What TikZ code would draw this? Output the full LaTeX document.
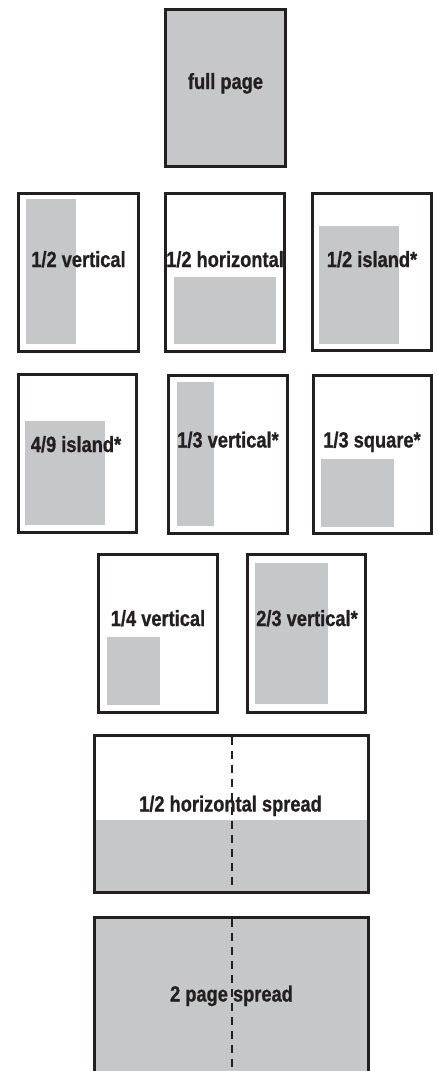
\documentclass[tikz,border=0pt]{standalone}
\usepackage{fontspec}
\newfontfamily\condfont[FakeStretch=0.83,BoldFeatures={FakeBold=0.8}]{Liberation Sans}
\definecolor{ink}{HTML}{231F20}
\definecolor{adgray}{HTML}{C6C7C9}
\begin{document}
\begin{tikzpicture}[x=1pt,y=-1pt,
  frame/.style={draw=ink,line width=2.6pt},
  panel/.style={fill=adgray},
  fold/.style={draw=ink,line width=1.1pt,dash pattern=on 8pt off 6pt},
  lbl/.style={anchor=base,text=ink,inner sep=0pt,font=\condfont\bfseries\fontsize{22}{26}\selectfont}]
\useasboundingbox (0,0) rectangle (437,1071);
\fill[white] (0,0) rectangle (437,1071);
% full page
\fill[panel] (165.3,9.3) rectangle (285.7,166.7);
\draw[frame] (165.3,9.3) rectangle (285.7,166.7);
\node[lbl] (full) at (225.5,89) {full page};
% row 2
\fill[panel] (26,199) rectangle (76,344);
\draw[frame] (18.3,193.3) rectangle (138.7,351.7);
\node[lbl] (hv) at (78.5,267) {1/2 vertical};
\fill[panel] (174,277) rectangle (276,344);
\draw[frame] (165.3,193.3) rectangle (284.7,351.7);
\node[lbl] (hh) at (225,267) {1/2 horizontal};
\fill[panel] (319,226) rectangle (399,344);
\draw[frame] (312.3,193.3) rectangle (431.7,350.7);
\node[lbl] (hi) at (372,267) {1/2 island*};
% row 3
\fill[panel] (25,421) rectangle (105,525);
\draw[frame] (18.3,374.3) rectangle (136.7,532.7);
\node[lbl] (ni) at (76,452) {4/9 island*};
\fill[panel] (177,382) rectangle (214,526);
\draw[frame] (168.3,375.3) rectangle (287.7,533.7);
\node[lbl] (tv) at (228,447.5) {1/3 vertical*};
\fill[panel] (321,459) rectangle (394,527);
\draw[frame] (313.3,375.3) rectangle (431.7,533.7);
\node[lbl] (ts) at (372,447.5) {1/3 square*};
% row 4
\fill[panel] (107,637) rectangle (160,705);
\draw[frame] (98.3,554.3) rectangle (217.7,712.7);
\node[lbl] (qv) at (158,626) {1/4 vertical};
\fill[panel] (255,563) rectangle (328,704);
\draw[frame] (247.3,554.3) rectangle (365.7,712.7);
\node[lbl] (tt) at (307,626) {2/3 vertical*};
% 1/2 horizontal spread
\fill[panel] (94.3,820) rectangle (368.7,892.7);
\draw[frame] (94.3,735.3) rectangle (368.7,892.7);
\coordinate (e1) at (232,736.6);
\coordinate (e2) at (232,891.4);
\draw[fold] (e1) -- (e2);
\node[lbl] (hs) at (230.5,811.5) {1/2 horizontal spread};
% 2 page spread
\fill[panel] (94.3,917.3) rectangle (368.7,1080);
\draw[frame] (94.3,1080) -- (94.3,917.3) -- (368.7,917.3) -- (368.7,1080);
\coordinate (f1) at (232,918.6);
\coordinate (f2) at (232,1075);
\draw[fold] (f1) -- (f2);
\node[lbl] (ps) at (231.5,1001.5) {2 page spread};
\end{tikzpicture}
\end{document}
